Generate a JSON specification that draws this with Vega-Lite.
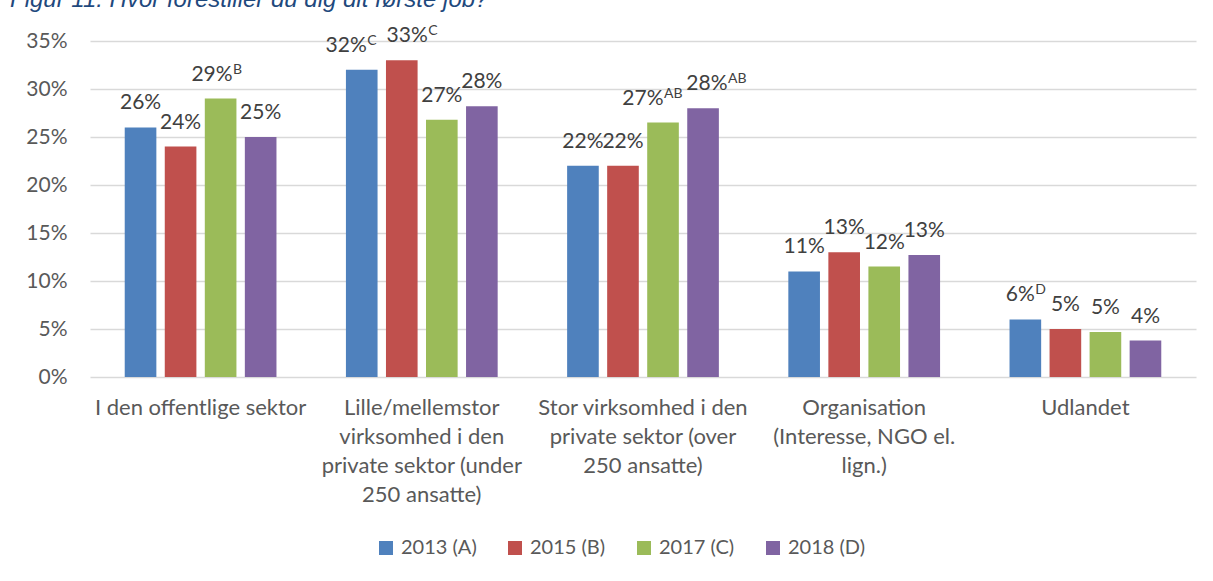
{
  "$schema": "https://vega.github.io/schema/vega-lite/v6.json",
  "width": 1106,
  "height": 336,
  "autosize": {"type": "none"},
  "padding": {"left": 90, "top": 41, "right": 17, "bottom": 204},
  "background": "white",
  "title": {
    "text": "Figur 11: Hvor forestiller du dig dit første job?",
    "anchor": "start",
    "frame": "group",
    "orient": "top",
    "offset": 0,
    "dy": 7,
    "baseline": "alphabetic",
    "dx": -80,
    "font": "Liberation Sans",
    "fontStyle": "italic",
    "fontWeight": "normal",
    "fontSize": 24,
    "color": "#1F497D"
  },
  "config": {
    "view": {"stroke": null},
    "font": "Lato",
    "text": {"baseline": "alphabetic", "color": "#404040"}
  },
  "data": {
    "values": [
      {"kategori": "I den offentlige sektor", "aar": "2013 (A)", "andel": 26, "tal": "26%", "sup": ""},
      {"kategori": "I den offentlige sektor", "aar": "2015 (B)", "andel": 24, "tal": "24%", "sup": ""},
      {"kategori": "I den offentlige sektor", "aar": "2017 (C)", "andel": 29, "tal": "29%", "sup": "B"},
      {"kategori": "I den offentlige sektor", "aar": "2018 (D)", "andel": 25, "tal": "25%", "sup": ""},
      {"kategori": "Lille/mellemstor|virksomhed i den|private sektor (under|250 ansatte)", "aar": "2013 (A)", "andel": 32, "tal": "32%", "sup": "C"},
      {"kategori": "Lille/mellemstor|virksomhed i den|private sektor (under|250 ansatte)", "aar": "2015 (B)", "andel": 33, "tal": "33%", "sup": "C"},
      {"kategori": "Lille/mellemstor|virksomhed i den|private sektor (under|250 ansatte)", "aar": "2017 (C)", "andel": 26.8, "tal": "27%", "sup": ""},
      {"kategori": "Lille/mellemstor|virksomhed i den|private sektor (under|250 ansatte)", "aar": "2018 (D)", "andel": 28.2, "tal": "28%", "sup": ""},
      {"kategori": "Stor virksomhed i den|private sektor (over|250 ansatte)", "aar": "2013 (A)", "andel": 22, "tal": "22%", "sup": ""},
      {"kategori": "Stor virksomhed i den|private sektor (over|250 ansatte)", "aar": "2015 (B)", "andel": 22, "tal": "22%", "sup": ""},
      {"kategori": "Stor virksomhed i den|private sektor (over|250 ansatte)", "aar": "2017 (C)", "andel": 26.5, "tal": "27%", "sup": "AB"},
      {"kategori": "Stor virksomhed i den|private sektor (over|250 ansatte)", "aar": "2018 (D)", "andel": 28, "tal": "28%", "sup": "AB"},
      {"kategori": "Organisation|(Interesse, NGO el.|lign.)", "aar": "2013 (A)", "andel": 11, "tal": "11%", "sup": ""},
      {"kategori": "Organisation|(Interesse, NGO el.|lign.)", "aar": "2015 (B)", "andel": 13, "tal": "13%", "sup": ""},
      {"kategori": "Organisation|(Interesse, NGO el.|lign.)", "aar": "2017 (C)", "andel": 11.5, "tal": "12%", "sup": ""},
      {"kategori": "Organisation|(Interesse, NGO el.|lign.)", "aar": "2018 (D)", "andel": 12.7, "tal": "13%", "sup": ""},
      {"kategori": "Udlandet", "aar": "2013 (A)", "andel": 6, "tal": "6%", "sup": "D"},
      {"kategori": "Udlandet", "aar": "2015 (B)", "andel": 5, "tal": "5%", "sup": ""},
      {"kategori": "Udlandet", "aar": "2017 (C)", "andel": 4.7, "tal": "5%", "sup": ""},
      {"kategori": "Udlandet", "aar": "2018 (D)", "andel": 3.8, "tal": "4%", "sup": ""}
    ]
  },
  "encoding": {
    "x": {
      "field": "kategori",
      "type": "nominal",
      "sort": null,
      "scale": {"paddingInner": 0.314, "paddingOuter": 0.157},
      "axis": {
        "title": null,
        "labelAngle": 0,
        "labelExpr": "split(datum.label, '|')",
        "labelFontSize": 22,
        "labelLineHeight": 29,
        "labelColor": "#595959",
        "labelPadding": 20,
        "labelBaseline": "top",
        "labelLimit": 300,
        "ticks": false,
        "domain": false
      }
    },
    "xOffset": {
      "field": "aar",
      "type": "nominal",
      "sort": null,
      "scale": {"paddingInner": 0.21}
    },
    "y": {
      "field": "andel",
      "type": "quantitative",
      "scale": {"domain": [0, 35]},
      "axis": {
        "title": null,
        "values": [0, 5, 10, 15, 20, 25, 30, 35],
        "labelExpr": "datum.value + '%'",
        "labelFontSize": 21,
        "labelColor": "#595959",
        "labelPadding": 23,
        "ticks": false,
        "domain": false,
        "grid": true,
        "gridColor": "#D9D9D9",
        "gridWidth": 1.3
      }
    }
  },
  "layer": [
    {
      "mark": {"type": "bar"},
      "encoding": {
        "color": {
          "field": "aar",
          "type": "nominal",
          "scale": {
            "domain": ["2013 (A)", "2015 (B)", "2017 (C)", "2018 (D)"],
            "range": ["#4F81BD", "#C0504D", "#9BBB59", "#8064A2"]
          },
          "legend": {
            "title": null,
            "orient": "none",
            "direction": "horizontal",
            "legendX": 286,
            "legendY": 497,
            "symbolType": "square",
            "symbolSize": 196,
            "symbolStrokeWidth": 0,
            "labelFontSize": 20,
            "labelColor": "#595959",
            "labelOffset": 5,
            "columnPadding": 28
          }
        }
      }
    },
    {
      "transform": [{"filter": "datum.sup == ''"}],
      "mark": {"type": "text", "dy": -18, "align": "center", "fontSize": 21},
      "encoding": {"text": {"field": "tal", "type": "nominal"}}
    },
    {
      "transform": [{"filter": "datum.sup == 'B'"}],
      "mark": {"type": "text", "dy": -18, "dx": 12, "align": "right", "fontSize": 21},
      "encoding": {"text": {"field": "tal", "type": "nominal"}}
    },
    {
      "transform": [{"filter": "datum.sup == 'B'"}],
      "mark": {"type": "text", "dy": -25, "dx": 12.5, "align": "left", "fontSize": 14},
      "encoding": {"text": {"field": "sup", "type": "nominal"}}
    },
    {
      "transform": [{"filter": "datum.sup == 'C' && datum.aar == '2013 (A)'"}],
      "mark": {"type": "text", "dy": -18, "dx": 5, "align": "right", "fontSize": 21},
      "encoding": {"text": {"field": "tal", "type": "nominal"}}
    },
    {
      "transform": [{"filter": "datum.sup == 'C' && datum.aar == '2013 (A)'"}],
      "mark": {"type": "text", "dy": -25, "dx": 5.5, "align": "left", "fontSize": 14},
      "encoding": {"text": {"field": "sup", "type": "nominal"}}
    },
    {
      "transform": [{"filter": "datum.sup == 'C' && datum.aar == '2015 (B)'"}],
      "mark": {"type": "text", "dy": -18, "dx": 26, "align": "right", "fontSize": 21},
      "encoding": {"text": {"field": "tal", "type": "nominal"}}
    },
    {
      "transform": [{"filter": "datum.sup == 'C' && datum.aar == '2015 (B)'"}],
      "mark": {"type": "text", "dy": -25, "dx": 26.5, "align": "left", "fontSize": 14},
      "encoding": {"text": {"field": "sup", "type": "nominal"}}
    },
    {
      "transform": [{"filter": "datum.sup == 'D'"}],
      "mark": {"type": "text", "dy": -18, "dx": 9.5, "align": "right", "fontSize": 21},
      "encoding": {"text": {"field": "tal", "type": "nominal"}}
    },
    {
      "transform": [{"filter": "datum.sup == 'D'"}],
      "mark": {"type": "text", "dy": -25, "dx": 10, "align": "left", "fontSize": 14},
      "encoding": {"text": {"field": "sup", "type": "nominal"}}
    },
    {
      "transform": [{"filter": "datum.sup == 'AB' && datum.aar == '2017 (C)'"}],
      "mark": {"type": "text", "dy": -18, "dx": 0.5, "align": "right", "fontSize": 21},
      "encoding": {"text": {"field": "tal", "type": "nominal"}}
    },
    {
      "transform": [{"filter": "datum.sup == 'AB' && datum.aar == '2017 (C)'"}],
      "mark": {"type": "text", "dy": -25, "dx": 1, "align": "left", "fontSize": 14},
      "encoding": {"text": {"field": "sup", "type": "nominal"}}
    },
    {
      "transform": [{"filter": "datum.sup == 'AB' && datum.aar == '2018 (D)'"}],
      "mark": {"type": "text", "dy": -18, "dx": 24.5, "align": "right", "fontSize": 21},
      "encoding": {"text": {"field": "tal", "type": "nominal"}}
    },
    {
      "transform": [{"filter": "datum.sup == 'AB' && datum.aar == '2018 (D)'"}],
      "mark": {"type": "text", "dy": -25, "dx": 25, "align": "left", "fontSize": 14},
      "encoding": {"text": {"field": "sup", "type": "nominal"}}
    }
  ]
}
